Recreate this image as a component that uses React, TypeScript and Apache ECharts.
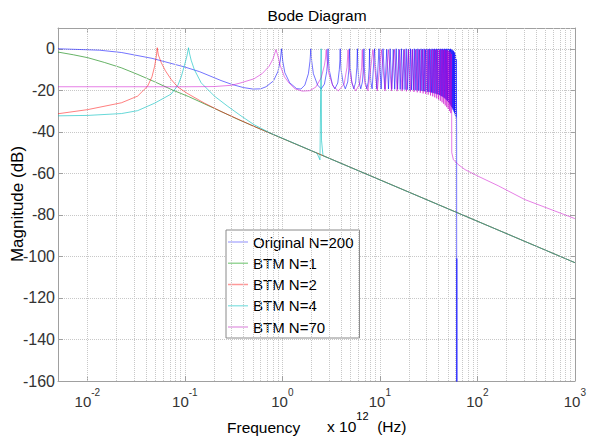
import React, { useEffect, useRef } from "react";
import * as echarts from "echarts";

const X_MIN = 0.005;
const X_MAX = 1000;
const Y_MIN = -160;
const Y_MAX = 10;
const yTicks = [-160, -140, -120, -100, -80, -60, -40, -20, 0];
const xTickExponents = [-2, -1, 0, 1, 2, 3];
const minorMantissas = [2, 3, 4, 5, 6, 7, 8, 9];
const seriesNames = ["Original N=200", "BTM N=1", "BTM N=2", "BTM N=4", "BTM N=70"];
const seriesColors = [
  "rgba(0,0,255,0.55)",
  "rgba(0,128,0,0.6)",
  "rgba(255,0,0,0.5)",
  "rgba(0,190,190,0.6)",
  "rgba(205,0,205,0.5)",
];
const legendColors = ["#b4b4ff", "#99d699", "#ff9999", "#99e6e6", "#e6a6e6"];

type P = [number, number];

const originalN200: P[] = [
  [0.005, 0], [0.0134, -0.7], [0.0224, -1.8], [0.046, -4.6], [0.1, -8.8], [0.141, -11], [0.235, -15.3],
  [0.305, -17.2], [0.4, -18.7], [0.5, -19.4], [0.6, -19.3], [0.68, -18.3], [0.81, -15.5], [0.9, -11],
  [0.95, -6], [0.98, 0], [1.01, -6], [1.06, -11.5], [1.19, -16.4], [1.4, -19.2], [1.55, -19.4], [1.7, -17.5],
  [1.85, -12], [1.92, -6], [1.96, 0], [2.0, -6], [2.08, -12], [2.3, -17.5], [2.5, -19.3], [2.7, -17],
  [2.85, -11], [2.91, -6], [2.94, 0], [2.97, -6], [3.05, -11], [3.25, -17], [3.45, -19.3], [3.7, -16.5],
  [3.84, -10], [3.9, -5], [3.92, 0], [3.94, -5], [4.0, -10], [4.2, -16.5], [4.42, -19.3], [4.68, -16],
  [4.83, -9], [4.9, 0], [4.97, -9], [5.15, -16], [5.4, -19.3], [5.65, -16], [5.81, -9], [5.88, 0],
  [5.95, -9], [6.12, -16], [6.37, -19.3], [6.62, -16], [6.79, -9], [6.86, 0], [6.93, -9], [7.1, -16],
  [7.35, -19.3], [7.6, -16], [7.77, -9], [7.84, 0], [7.91, -9], [8.08, -16], [8.33, -19.3], [8.82, 0],
  [9.3, -19.3], [9.8, 0], [10.3, -19.4], [10.78, 0], [11.27, -19.4], [11.76, -0.2], [12.25, -19.4],
  [12.74, 0], [13.23, -19.5], [13.72, -0.3], [14.2, -19.5], [14.7, 0], [15.2, -19.5], [15.68, -0.2],
  [16.17, -19.6], [16.66, 0], [17.15, -19.6], [17.64, -0.3], [18.13, -19.7], [18.62, 0], [19.1, -19.7],
  [19.6, -0.2], [20.1, -19.8], [20.58, 0], [21.07, -19.8], [21.56, -0.3], [22.05, -19.9], [22.54, 0],
  [23.03, -20], [23.52, -0.2], [24, -20], [24.5, 0], [25, -20.1], [25.48, -0.3], [25.97, -20.2],
  [26.46, 0], [26.95, -20.3], [27.44, -0.2], [27.93, -20.4], [28.42, 0], [28.91, -20.5], [29.4, -0.3],
  [29.89, -20.6], [30.38, 0], [30.87, -20.7], [31.36, -0.2], [31.85, -20.8], [32.34, 0], [32.83, -21],
  [33.32, -0.3], [33.81, -21.1], [34.3, 0], [34.79, -21.2], [35.28, -0.2], [35.77, -21.4], [36.26, 0],
  [36.75, -21.5], [37.24, -0.3], [37.73, -21.7], [38.22, 0], [38.71, -21.9], [39.2, -0.2], [39.69, -22.1],
  [40.18, 0], [40.67, -22.3], [41.16, -0.3], [41.65, -22.5], [42.14, 0], [42.63, -22.8], [43.12, -0.2],
  [43.61, -23], [44.1, 0], [44.59, -23.3], [45.08, -0.3], [45.57, -23.6], [46.06, 0], [46.55, -24],
  [47.04, -0.2], [47.53, -24.4], [48.02, 0], [48.51, -24.8], [49, -0.3], [49.49, -25.2], [49.98, 0],
  [50.47, -25.7], [50.96, -0.2], [51.45, -26.2], [51.94, -0.3], [52.43, -26.8], [52.92, 0], [53.41, -27.4],
  [53.9, -0.3], [54.39, -28], [54.88, -0.5], [55.37, -28.7], [55.86, -0.8], [56.35, -29.4], [56.84, -1],
  [57.33, -30.2], [57.82, -1.5], [58.31, -31], [58.8, -2], [59.29, -32], [59.78, -3], [60.27, -33],
  [60.76, -5], [61.3, -40], [61.4, -200], [61.6, -101], [61.9, -200], [1000, -400],
];

const btmN1: P[] = [
  [0.005, -1.6], [0.0072, -2.9], [0.0101, -4.3], [0.015, -6.6], [0.0224, -9.2], [0.033, -12.4],
  [0.049, -15.9], [0.075, -19.9], [0.109, -23], [0.16, -26.6], [0.235, -30.2], [0.35, -34],
  [0.514, -37.4], [1000, -103],
];

const btmN2: P[] = [
  [0.005, -31.3], [0.0101, -29.3], [0.0224, -26], [0.0328, -22.8], [0.0415, -18], [0.046, -13.5],
  [0.049, -8.4], [0.0512, -3], [0.0521, 0.5], [0.0535, -3], [0.0573, -6.7], [0.063, -10.5],
  [0.0724, -14.8], [0.085, -18.5], [0.106, -21.5], [0.159, -26.2], [0.235, -30.2], [0.514, -37.4],
  [1000, -103],
];

const btmN4: P[] = [
  [0.005, -32.3], [0.0101, -32.1], [0.0224, -31.2], [0.0328, -29.8], [0.049, -26.2], [0.0724, -21.8],
  [0.085, -17.5], [0.0918, -13.5], [0.099, -8], [0.105, -3.5], [0.109, 0.5], [0.112, -2.5],
  [0.116, -5.5], [0.125, -10], [0.147, -16.4], [0.201, -22.8], [0.275, -27.7], [0.376, -32.3],
  [0.514, -36.6], [0.75, -40.6], [2.26, -50.2], [2.43, -53.5], [2.5, 0], [2.52, -44], [2.61, -51.5],
  [1000, -103],
];

const btmN70: P[] = [
  [0.005, -18.3], [0.1, -18.3], [0.2, -18.2], [0.3, -17.6], [0.37, -16.5], [0.51, -14.5], [0.62, -12],
  [0.73, -8.5], [0.8, -5], [0.86, -0.4], [0.9, -3.5], [0.95, -8], [1.05, -13.5], [1.17, -16.5],
  [1.35, -19.3], [1.6, -20.4], [1.9, -20.2], [2.2, -18.5], [2.5, -14], [2.7, -8], [2.78, -4],
  [2.82, -0.4], [2.86, -5], [3.0, -12], [3.3, -18], [3.75, -20.3], [4.3, -17], [4.6, -9], [4.72, -0.5],
  [4.84, -9], [5.2, -17], [5.65, -20.3], [6.2, -17], [6.5, -9], [6.6, -0.4], [6.7, -9], [7.05, -17],
  [7.55, -20.3], [8.48, -0.5], [9.42, -20.3], [10.36, -0.4], [11.3, -20.3], [12.24, -0.5], [13.17, -20.3],
  [14.1, -0.4], [15.03, -20.4], [15.96, -0.5], [16.88, -20.4], [17.8, -0.4], [18.72, -20.5],
  [19.64, -0.5], [20.55, -20.6], [21.46, -0.4], [22.37, -20.8], [23.28, -0.5], [24.18, -21],
  [25.08, -0.4], [25.98, -21.2], [26.88, -0.5], [27.77, -21.5], [28.66, -0.4], [29.55, -21.8],
  [30.44, -0.5], [31.32, -22.1], [32.2, -0.4], [33.08, -22.5], [33.96, -0.5], [34.83, -22.9],
  [35.7, -0.4], [36.57, -23.4], [37.44, -0.5], [38.3, -23.9], [39.16, -0.4], [40.02, -24.5],
  [40.88, -0.5], [41.73, -25.1], [42.58, -0.4], [43.43, -25.8], [44.28, -0.5], [45.12, -26.5],
  [45.96, -0.4], [46.8, -27.3], [47.64, -0.6], [48.47, -28.1], [49.3, -0.8], [50.13, -29], [50.96, -1],
  [51.78, -30], [52.6, -1.5], [53.4, -31], [54.2, -2.5], [54.5, -31], [54.6, -50], [56.8, -53.4],
  [63.8, -55.8], [74.8, -58.2], [102, -61.4], [164, -66], [306, -72.6], [1000, -81.8],
];

const seriesData = [originalN200, btmN1, btmN2, btmN4, btmN70];

const FONT = "'Liberation Sans', Arial, sans-serif";
const GRID_COLOR = "#c8c8c8";
const AXIS_COLOR = "#a0a0a0";

function isPow10(v: number) {
  const e = Math.log10(v);
  return Math.abs(e - Math.round(e)) < 1e-6 && xTickExponents.includes(Math.round(e));
}

export default function App() {
  const ref = useRef<HTMLDivElement>(null);
  useEffect(() => {
    if (!ref.current) return;
    const chart = echarts.init(ref.current, undefined, { renderer: "svg" });

    const minorLines: { xAxis: number }[] = [];
    for (let k = -3; k <= 2; k++) {
      for (const m of minorMantissas) {
        const f = m * Math.pow(10, k);
        if (f > X_MIN && f < X_MAX) minorLines.push({ xAxis: f });
      }
    }

    const xBase = {
      type: "log" as const,
      logBase: 10,
      min: X_MIN,
      max: X_MAX,
    };

    const option: any = {
      animation: false,
      grid: { left: 58, right: 12, top: 28, bottom: 55, containLabel: false },
      xAxis: [
        {
          ...xBase,
          position: "bottom",
          axisLine: { show: true, onZero: false, lineStyle: { color: AXIS_COLOR, width: 1 } },
          axisTick: { show: true, inside: true, length: 5, lineStyle: { color: AXIS_COLOR } },
          splitLine: { show: true, lineStyle: { color: GRID_COLOR, type: "dotted", width: 1 } },
          axisLabel: {
            margin: 6,
            formatter: (v: number) => (isPow10(v) ? `{b|10}{s|${Math.round(Math.log10(v))}}` : ""),
            rich: {
              b: { fontSize: 15, fontFamily: FONT, color: "#333", lineHeight: 22, verticalAlign: "bottom" },
              s: { fontSize: 10, fontFamily: FONT, color: "#333", lineHeight: 10, verticalAlign: "top" },
            },
          },
        },
        {
          ...xBase,
          position: "top",
          axisLine: { show: true, onZero: false, lineStyle: { color: AXIS_COLOR, width: 1 } },
          axisTick: { show: true, inside: true, length: 5, lineStyle: { color: AXIS_COLOR } },
          splitLine: { show: false },
          axisLabel: { show: false },
        },
      ],
      yAxis: [
        {
          type: "value",
          min: Y_MIN,
          max: Y_MAX,
          interval: 20,
          position: "left",
          axisLine: { show: true, onZero: false, lineStyle: { color: AXIS_COLOR, width: 1 } },
          axisTick: { show: true, inside: true, length: 5, lineStyle: { color: AXIS_COLOR } },
          splitLine: { show: true, lineStyle: { color: GRID_COLOR, type: "dotted", width: 1 } },
          axisLabel: {
            margin: 3,
            fontSize: 16,
            fontFamily: FONT,
            color: "#333",
            formatter: (v: number) => (yTicks.includes(v) ? String(v) : ""),
          },
        },
        {
          type: "value",
          min: Y_MIN,
          max: Y_MAX,
          interval: 20,
          position: "right",
          axisLine: { show: true, onZero: false, lineStyle: { color: AXIS_COLOR, width: 1 } },
          axisTick: { show: true, inside: true, length: 5, lineStyle: { color: AXIS_COLOR } },
          splitLine: { show: false },
          axisLabel: { show: false },
        },
      ],
      legend: {
        orient: "vertical",
        left: 226,
        top: 230,
        data: seriesNames.map((name, i) => ({
          name,
          icon: "rect",
          itemStyle: { color: legendColors[i], opacity: 1 },
        })),
        backgroundColor: "#fff",
        borderColor: "#8a8a8a",
        borderWidth: 1,
        borderRadius: 0,
        padding: [4, 6, 3, 2],
        itemWidth: 20,
        itemHeight: 1.5,
        itemGap: 5.25,
        selectedMode: false,
        textStyle: { fontSize: 15, fontFamily: FONT, color: "#000", lineHeight: 16, height: 16 },
      },
      graphic: [
        {
          type: "text",
          x: 317,
          y: 15,
          silent: true,
          style: {
            text: "Bode Diagram",
            fontSize: 15.5,
            fontFamily: FONT,
            fill: "#000",
            align: "center",
            verticalAlign: "middle",
          },
        },
        {
          type: "text",
          x: 17,
          y: 204,
          rotation: Math.PI / 2,
          silent: true,
          style: {
            text: "Magnitude (dB)",
            fontSize: 17,
            fontFamily: FONT,
            fill: "#000",
            align: "center",
            verticalAlign: "middle",
          },
        },
        {
          type: "text",
          x: 227,
          y: 427,
          silent: true,
          style: {
            text: "Frequency",
            fontSize: 15.5,
            fontFamily: FONT,
            fill: "#000",
            align: "left",
            verticalAlign: "middle",
          },
        },
        {
          type: "text",
          x: 327,
          y: 422,
          silent: true,
          style: {
            text: "{a|x 10}{s|12}{a|  (Hz)}",
            align: "left",
            verticalAlign: "middle",
            rich: {
              a: { fontSize: 15.5, fontFamily: FONT, fill: "#000", lineHeight: 24, verticalAlign: "bottom" },
              s: { fontSize: 11, fontFamily: FONT, fill: "#000", lineHeight: 12, verticalAlign: "top" },
            },
          },
        },
      ],
      series: [
        {
          type: "line",
          name: "__grid",
          data: [],
          z: 1,
          silent: true,
          symbol: "none",
          markLine: {
            silent: true,
            symbol: "none",
            label: { show: false },
            animation: false,
            lineStyle: { color: GRID_COLOR, type: "dotted", width: 1 },
            data: minorLines,
          },
        },
        ...seriesNames.map((name, i) => ({
          type: "line",
          name,
          data: seriesData[i],
          symbol: "none",
          showSymbol: false,
          silent: true,
          clip: true,
          z: 3 + i,
          lineStyle: { color: seriesColors[i], width: 1 },
          itemStyle: { color: seriesColors[i] },
        })),
      ],
    };

    chart.setOption(option);
    return () => chart.dispose();
  }, []);

  return (
    <div
      ref={ref}
      style={{ position: "fixed", left: 0, top: 0, width: 589, height: 436, background: "#fff" }}
    />
  );
}
